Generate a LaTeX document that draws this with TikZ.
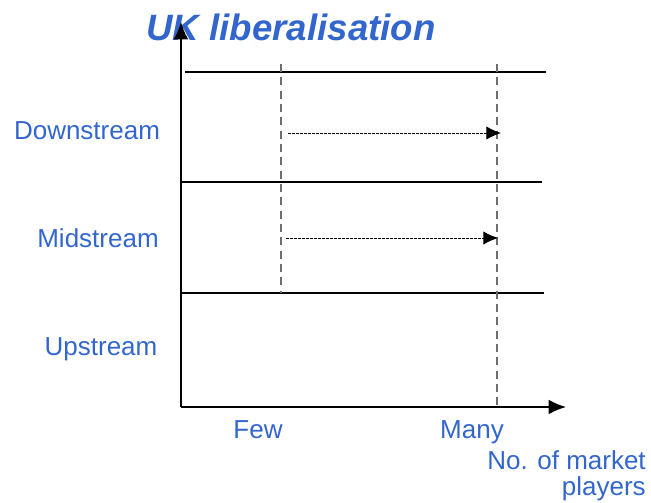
\documentclass[tikz,border=0pt]{standalone}
\usepackage{fontspec}
\setmainfont{Liberation Sans}
\usetikzlibrary{arrows.meta}
\definecolor{lblue}{RGB}{51,102,204}
\definecolor{dgray}{RGB}{110,110,110}
\begin{document}
\begin{tikzpicture}[x=0.75pt,y=-0.75pt,
  lbl/.style={text=lblue,font=\fontsize{19.5}{23}\selectfont,inner sep=0pt},
  axis/.style={line width=1.2pt,-{Latex[length=13pt,width=11pt]}},
  band/.style={line width=1.2pt},
  guide/.style={dgray,line width=1.2pt,dash pattern=on 6pt off 4pt},
  move/.style={line width=0.7pt,dash pattern=on 2pt off 1pt,-{Latex[length=11pt,width=10pt]}}]
\useasboundingbox (0,0) rectangle (651,503);
% coordinates
\coordinate (o) at (181,407);
\coordinate (ytip) at (181,22);
\coordinate (xtip) at (566,407);
\coordinate (l1a) at (185,72); \coordinate (l1b) at (546,72);
\coordinate (l2a) at (181,182); \coordinate (l2b) at (542,182);
\coordinate (l3a) at (181,293); \coordinate (l3b) at (544,293);
\coordinate (g1a) at (281,64); \coordinate (g1b) at (281,293);
\coordinate (g2a) at (497,64); \coordinate (g2b) at (497,407);
\coordinate (a1s) at (288,133); \coordinate (a1e) at (501,133);
\coordinate (a2s) at (286,238); \coordinate (a2e) at (498,238);
% title
\node[text=lblue,font=\fontsize{27.5}{32}\bfseries\itshape\selectfont,inner sep=0pt] (title) at (291,27) {UK liberalisation};
% lines
\draw[band] (l1a) -- (l1b);
\draw[band] (l2a) -- (l2b);
\draw[band] (l3a) -- (l3b);
\draw[guide] (g1a) -- (g1b);
\draw[guide] (g2a) -- (g2b);
\draw[axis] (o) -- (ytip);
\draw[axis] (o) -- (xtip);
\draw[move] (a1s) -- (a1e);
\draw[move] (a2s) -- (a2e);
% labels
\node[lbl] (down) at (87,131) {Downstream};
\node[lbl] (mid) at (98,238) {Midstream};
\node[lbl] (up) at (101,349) {Upstream};
\node[lbl] (few) at (258,430) {Few};
\node[lbl] (many) at (472,432) {Many};
\node[lbl,anchor=east] (no) at (646,460) {No. of market};
\node[lbl,anchor=east] (pl) at (646,489) {players};
\end{tikzpicture}
\end{document}
